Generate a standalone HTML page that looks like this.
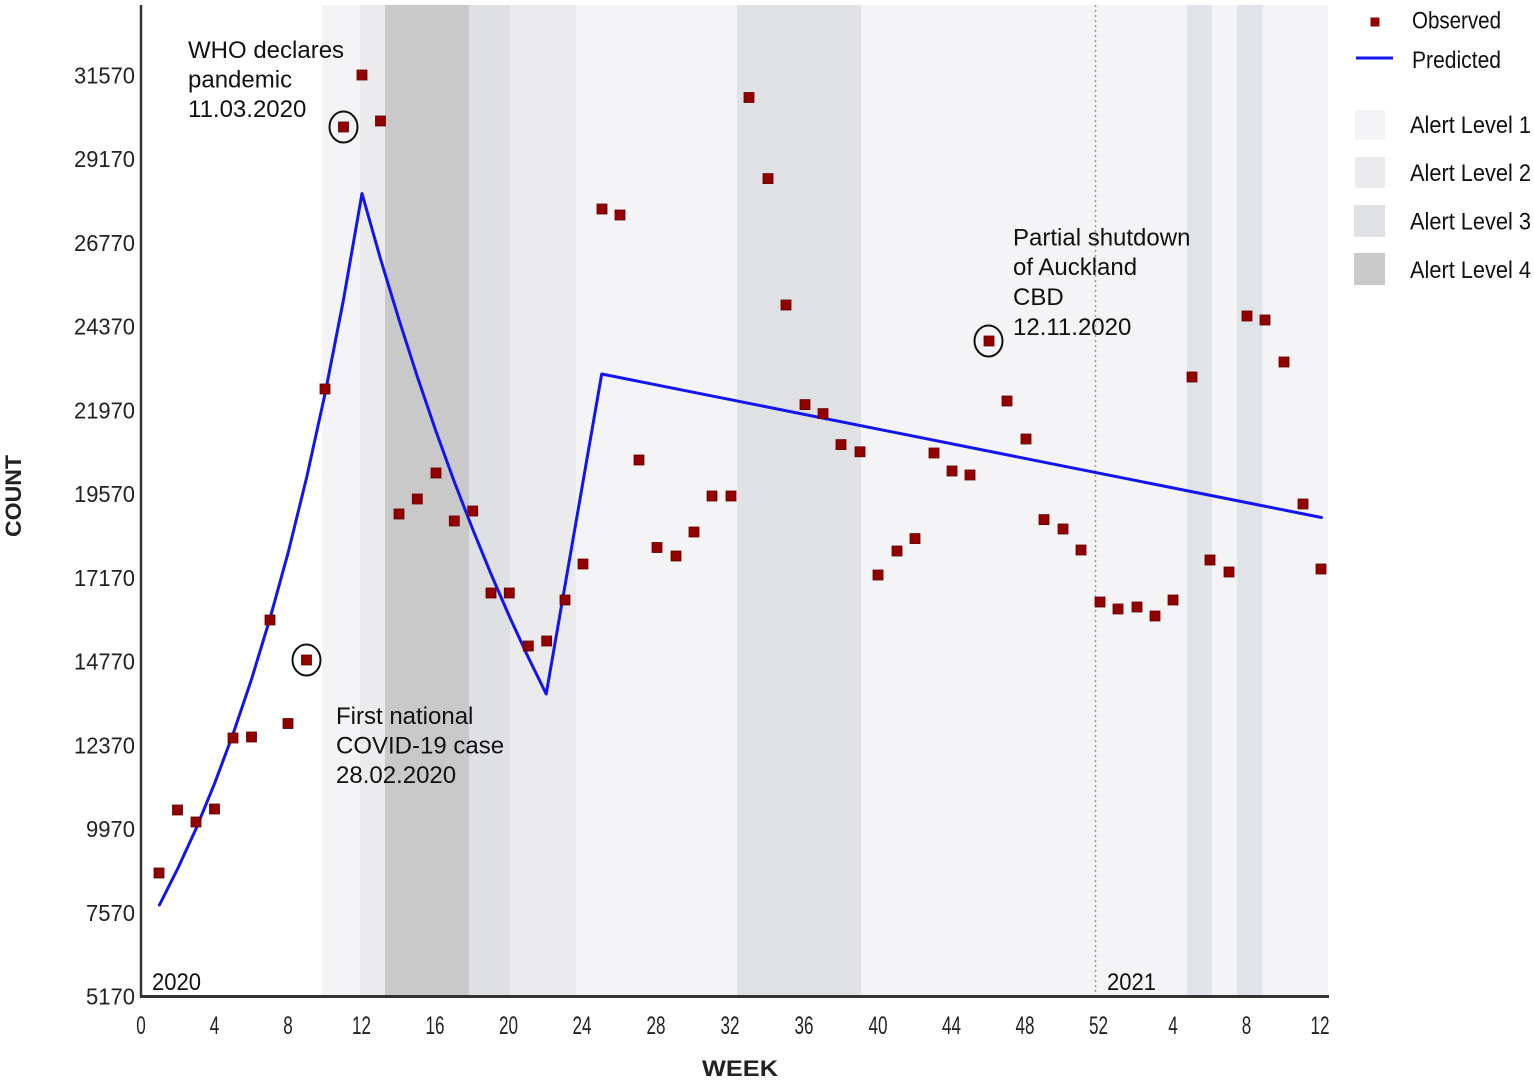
<!DOCTYPE html>
<html><head><meta charset="utf-8"><style>
html,body{margin:0;padding:0;background:#fff;}
svg{display:block;}
text{font-family:"Liberation Sans",Arial,sans-serif;}
</style></head><body>
<svg width="1534" height="1080" viewBox="0 0 1534 1080" xmlns="http://www.w3.org/2000/svg">
<rect x="0" y="0" width="1534" height="1080" fill="#fff"/>
<!-- bands -->
<rect x="322" y="5" width="1006" height="991" fill="#f4f4f6"/>
<rect x="360" y="5" width="25" height="991" fill="#ebebed"/>
<rect x="385" y="5" width="84" height="991" fill="#c9c9ca"/>
<rect x="469" y="5" width="41" height="991" fill="#dfe0e3"/>
<rect x="510" y="5" width="66" height="991" fill="#ebebed"/>
<rect x="737" y="5" width="124" height="991" fill="#e0e1e5"/>
<rect x="1187" y="5" width="25" height="991" fill="#e0e3e7"/>
<rect x="1237" y="5" width="25.5" height="991" fill="#e0e3e7"/>
<!-- dotted year line -->
<line x1="1095.5" y1="5" x2="1095.5" y2="996" stroke="#9a9a9a" stroke-width="1.5" stroke-dasharray="2,3"/>
<!-- axes -->
<line x1="141" y1="5" x2="141" y2="997" stroke="#333" stroke-width="2.5"/>
<line x1="140" y1="996.5" x2="1329" y2="996.5" stroke="#333" stroke-width="3"/>
<!-- y tick labels -->
<g fill="#222" font-size="23" text-anchor="end">
<text x="135" y="83.5" textLength="61" lengthAdjust="spacingAndGlyphs">31570</text>
<text x="135" y="167" textLength="61" lengthAdjust="spacingAndGlyphs">29170</text>
<text x="135" y="251" textLength="61" lengthAdjust="spacingAndGlyphs">26770</text>
<text x="135" y="334.5" textLength="61" lengthAdjust="spacingAndGlyphs">24370</text>
<text x="135" y="418.5" textLength="61" lengthAdjust="spacingAndGlyphs">21970</text>
<text x="135" y="502" textLength="61" lengthAdjust="spacingAndGlyphs">19570</text>
<text x="135" y="586" textLength="61" lengthAdjust="spacingAndGlyphs">17170</text>
<text x="135" y="669.5" textLength="61" lengthAdjust="spacingAndGlyphs">14770</text>
<text x="135" y="753.5" textLength="61" lengthAdjust="spacingAndGlyphs">12370</text>
<text x="135" y="837" textLength="49" lengthAdjust="spacingAndGlyphs">9970</text>
<text x="135" y="921" textLength="49" lengthAdjust="spacingAndGlyphs">7570</text>
<text x="135" y="1004.5" textLength="49" lengthAdjust="spacingAndGlyphs">5170</text>
</g>
<!-- x tick labels -->
<g fill="#222" font-size="25" text-anchor="middle">
<text x="141" y="1034" textLength="9.5" lengthAdjust="spacingAndGlyphs">0</text>
<text x="214.5" y="1034" textLength="9.5" lengthAdjust="spacingAndGlyphs">4</text>
<text x="288" y="1034" textLength="9.5" lengthAdjust="spacingAndGlyphs">8</text>
<text x="361.5" y="1034" textLength="19" lengthAdjust="spacingAndGlyphs">12</text>
<text x="435" y="1034" textLength="19" lengthAdjust="spacingAndGlyphs">16</text>
<text x="508.5" y="1034" textLength="19" lengthAdjust="spacingAndGlyphs">20</text>
<text x="582" y="1034" textLength="19" lengthAdjust="spacingAndGlyphs">24</text>
<text x="656" y="1034" textLength="19" lengthAdjust="spacingAndGlyphs">28</text>
<text x="730" y="1034" textLength="19" lengthAdjust="spacingAndGlyphs">32</text>
<text x="804" y="1034" textLength="19" lengthAdjust="spacingAndGlyphs">36</text>
<text x="878" y="1034" textLength="19" lengthAdjust="spacingAndGlyphs">40</text>
<text x="951.5" y="1034" textLength="19" lengthAdjust="spacingAndGlyphs">44</text>
<text x="1025" y="1034" textLength="19" lengthAdjust="spacingAndGlyphs">48</text>
<text x="1098.5" y="1034" textLength="19" lengthAdjust="spacingAndGlyphs">52</text>
<text x="1173" y="1034" textLength="9.5" lengthAdjust="spacingAndGlyphs">4</text>
<text x="1246.5" y="1034" textLength="9.5" lengthAdjust="spacingAndGlyphs">8</text>
<text x="1320" y="1034" textLength="19" lengthAdjust="spacingAndGlyphs">12</text>
</g>
<!-- axis titles -->
<text x="740" y="1076" font-size="22" font-weight="bold" fill="#222" text-anchor="middle" textLength="76" lengthAdjust="spacingAndGlyphs">WEEK</text>
<text transform="translate(21,496) rotate(-90)" font-size="22" font-weight="bold" fill="#222" text-anchor="middle" textLength="82" lengthAdjust="spacingAndGlyphs">COUNT</text>
<!-- year labels -->
<text x="152" y="990" font-size="24" fill="#111" textLength="49" lengthAdjust="spacingAndGlyphs">2020</text>
<text x="1107" y="990" font-size="24" fill="#111" textLength="49" lengthAdjust="spacingAndGlyphs">2021</text>
<!-- predicted line -->
<polyline fill="none" stroke="#1414f0" stroke-width="3" stroke-linejoin="round" stroke-linecap="round"
points="159.4,905 177.8,868.5 196.3,828.1 214.7,783.2 233.1,733.9 251.5,679.3 269.9,618.8 288.4,551.7 306.8,476.8 325.2,393.1 343.6,299.1 362,193.5 380.4,258.5 398.9,319.3 417.3,376.6 435.7,430.5 454.1,481.2 472.6,529 491,574 509.4,616.5 527.8,656.4 546.2,694 601.7,374 1321.5,517.5"/>
<!-- observed -->
<g fill="#930000" stroke="#650000" stroke-width="0.8">
<rect x="154" y="868" width="10" height="10"/>
<rect x="172.5" y="805" width="10" height="10"/>
<rect x="191" y="817" width="10" height="10"/>
<rect x="209.5" y="804" width="10" height="10"/>
<rect x="228" y="733" width="10" height="10"/>
<rect x="246.5" y="732" width="10" height="10"/>
<rect x="265" y="615" width="10" height="10"/>
<rect x="283" y="718.5" width="10" height="10"/>
<rect x="301.5" y="655" width="10" height="10"/>
<rect x="320" y="384" width="10" height="10"/>
<rect x="338.5" y="122" width="10" height="10"/>
<rect x="357" y="70" width="10" height="10"/>
<rect x="375.5" y="116" width="10" height="10"/>
<rect x="394" y="509" width="10" height="10"/>
<rect x="412.3" y="494" width="10" height="10"/>
<rect x="431" y="468" width="10" height="10"/>
<rect x="449.3" y="516" width="10" height="10"/>
<rect x="467.7" y="506" width="10" height="10"/>
<rect x="486" y="588" width="10" height="10"/>
<rect x="504.3" y="588" width="10" height="10"/>
<rect x="523.3" y="641" width="10" height="10"/>
<rect x="541.7" y="636" width="10" height="10"/>
<rect x="560" y="595" width="10" height="10"/>
<rect x="578" y="559" width="10" height="10"/>
<rect x="597" y="204" width="10" height="10"/>
<rect x="615" y="210" width="10" height="10"/>
<rect x="634" y="455" width="10" height="10"/>
<rect x="652" y="542.5" width="10" height="10"/>
<rect x="671" y="551" width="10" height="10"/>
<rect x="689" y="527" width="10" height="10"/>
<rect x="707" y="491" width="10" height="10"/>
<rect x="726" y="491" width="10" height="10"/>
<rect x="744" y="92.5" width="10" height="10"/>
<rect x="763" y="173.6" width="10" height="10"/>
<rect x="781" y="300" width="10" height="10"/>
<rect x="800" y="399.6" width="10" height="10"/>
<rect x="818" y="408.6" width="10" height="10"/>
<rect x="836" y="439.6" width="10" height="10"/>
<rect x="855" y="446.8" width="10" height="10"/>
<rect x="873" y="570" width="10" height="10"/>
<rect x="892" y="546" width="10" height="10"/>
<rect x="910" y="533.6" width="10" height="10"/>
<rect x="929" y="448" width="10" height="10"/>
<rect x="947" y="466" width="10" height="10"/>
<rect x="965" y="470" width="10" height="10"/>
<rect x="984" y="336" width="10" height="10"/>
<rect x="1002" y="396" width="10" height="10"/>
<rect x="1021" y="434" width="10" height="10"/>
<rect x="1039" y="514.6" width="10" height="10"/>
<rect x="1058" y="524" width="10" height="10"/>
<rect x="1076" y="545" width="10" height="10"/>
<rect x="1095" y="597" width="10" height="10"/>
<rect x="1113" y="604" width="10" height="10"/>
<rect x="1132" y="602" width="10" height="10"/>
<rect x="1150" y="611" width="10" height="10"/>
<rect x="1168" y="595" width="10" height="10"/>
<rect x="1187" y="372" width="10" height="10"/>
<rect x="1205" y="555" width="10" height="10"/>
<rect x="1224" y="567" width="10" height="10"/>
<rect x="1242" y="311" width="10" height="10"/>
<rect x="1260" y="315" width="10" height="10"/>
<rect x="1279" y="357" width="10" height="10"/>
<rect x="1298" y="499" width="10" height="10"/>
<rect x="1316" y="564" width="10" height="10"/>
</g>
<!-- circles -->
<g fill="none" stroke="#111" stroke-width="2">
<ellipse cx="343.5" cy="127" rx="14" ry="15.5"/>
<ellipse cx="306.5" cy="660" rx="14" ry="15.5"/>
<ellipse cx="988.5" cy="341" rx="14" ry="15.5"/>
</g>
<!-- annotations -->
<g fill="#111" font-size="24">
<text x="188" y="58">WHO declares</text>
<text x="188" y="87.5">pandemic</text>
<text x="188" y="117">11.03.2020</text>
<text x="336" y="724">First national</text>
<text x="336" y="753.5">COVID-19 case</text>
<text x="336" y="783">28.02.2020</text>
<text x="1013" y="245.5">Partial shutdown</text>
<text x="1013" y="275">of Auckland</text>
<text x="1013" y="305">CBD</text>
<text x="1013" y="335">12.11.2020</text>
</g>
<!-- legend -->
<rect x="1370.5" y="17.5" width="9" height="9" fill="#930000"/>
<line x1="1356" y1="58" x2="1393" y2="58" stroke="#1414f0" stroke-width="3"/>
<rect x="1355" y="110" width="30" height="30" fill="#f4f4f6"/>
<rect x="1355" y="157" width="30" height="31" fill="#ebebed"/>
<rect x="1354" y="205" width="31" height="32" fill="#e0e1e5"/>
<rect x="1354" y="253" width="31" height="32" fill="#c9c9ca"/>
<g fill="#111" font-size="24">
<text x="1412" y="28.5" textLength="89" lengthAdjust="spacingAndGlyphs">Observed</text>
<text x="1412" y="68" textLength="89" lengthAdjust="spacingAndGlyphs">Predicted</text>
<text x="1410" y="133" textLength="121" lengthAdjust="spacingAndGlyphs">Alert Level 1</text>
<text x="1410" y="181" textLength="121" lengthAdjust="spacingAndGlyphs">Alert Level 2</text>
<text x="1410" y="229.5" textLength="121" lengthAdjust="spacingAndGlyphs">Alert Level 3</text>
<text x="1410" y="278" textLength="121" lengthAdjust="spacingAndGlyphs">Alert Level 4</text>
</g>
</svg>
</body></html>
